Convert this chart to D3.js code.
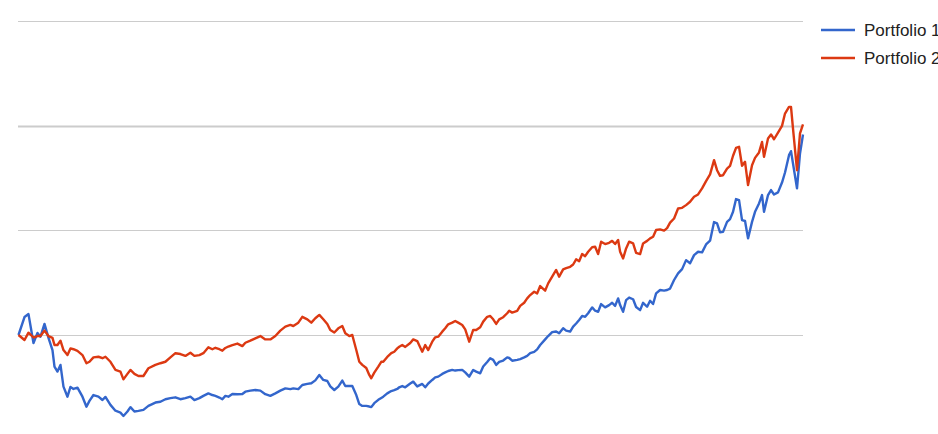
<!DOCTYPE html>
<html>
<head>
<meta charset="utf-8">
<script src="https://cdn.jsdelivr.net/npm/d3@7"></script>
<style>
  html, body { margin: 0; padding: 0; background: #fff; }
  svg { display: block; }
</style>
</head>
<body>
<svg id="chart" width="938" height="434"></svg>
<script>
// ---- data ----
const seriesNames = ["Portfolio 1", "Portfolio 2"];
const seriesColors = ["#3366cc", "#dc3912"];
const gridTicks = [100, 150, 200, 250];

const weeks = [0,6,10,15,19,22,26,30,34,36,39,42,45,49,52,55,59,64,68,71,75,80,84,87,92,97,102,105,109,112,116,120,125,130,
137,142,147,152,157,162,167,172,176,181,185,190,194,197,201,204,207,210,214,219,224,227,232,237,242,247,252,257,262,
267,272,275,280,284,289,293,297,301,305,309,312,316,320,324,327,331,334,338,341,344,348,351,353,356,360,363,365,369,373,376,379,381,384,387,392,
395,399,404,407,410,414,417,420,424,427,430,434,437,440,444,447,451,455,458,462,465,469,472,475,478,481,485,489,491,494,499,502,506,509,512,516,519,522,
527,530,534,538,541,545,548,552,555,558,561,564,567,570,574,577,580,583,587,591,594,597,600,602,605,608,611,615,618,622,625,629,632,635,638,642,646,649,652,
656,660,664,668,672,676,680,684,688,692,696,699,702,705,709,712,715,718,721,724,727,730,734,737,741,744,746,750,753,756,760,764,767,771,773,775,779,782,785];

const portfolio1 = [100.0,108.6,110.0,96.2,101.0,99.2,105.3,98.6,92.8,84.9,82.5,85.7,75.3,70.5,75.2,74.2,74.8,70.5,65.7,68.5,71.3,70.5,68.9,70.4,66.6,63.8,62.9,61.3,63.4,65.5,63.4,63.7,64.2,66.1,
67.7,68.1,69.3,69.8,70.2,69.3,69.8,70.5,68.9,69.8,70.9,72.1,71.3,70.9,70.1,69.3,70.9,70.5,71.8,71.7,71.8,72.9,73.4,73.7,73.4,71.7,70.9,72.1,73.4,
74.5,74.1,74.5,74.1,76.1,76.6,76.9,78.3,80.9,78.5,78.0,75.4,73.7,75.3,78.2,75.6,75.6,75.6,71.3,67.0,66.1,66.1,65.8,65.5,67.4,69.0,69.9,70.5,72.1,73.2,73.6,74.2,75.0,75.6,75.0,76.8,
77.7,75.4,76.6,75.0,76.8,78.5,79.7,80.1,81.4,82.1,82.8,83.3,83.0,83.2,83.3,82.1,80.1,83.3,82.5,81.7,84.9,87.1,88.9,88.1,85.7,87.1,87.8,89.3,89.0,87.7,88.1,88.5,89.3,90.0,91.3,91.9,93.1,95.2,
97.9,99.5,101.4,101.7,100.8,103.2,102.1,101.6,104.0,105.5,107.2,109.1,108.7,110.4,113.2,111.6,111.1,114.8,113.2,114.3,115.4,113.9,117.5,114.3,111.1,116.7,117.9,117.1,113.4,111.9,115.4,113.5,116.4,114.8,119.9,121.5,121.2,121.5,122.2,
126.3,129.5,131.5,135.8,134.3,138.2,139.8,139.5,143.3,145.1,154.0,153.4,149.1,149.3,154.1,155.4,158.9,165.0,164.5,154.9,154.5,146.2,154.1,158.9,162.9,166.9,158.9,166.9,169.3,167.2,168.2,172.9,177.7,186.0,187.9,182.0,170.1,186.8,195.9];

const portfolio2 = [100.0,97.6,101.1,98.8,99.5,99.5,102.1,99.5,98.6,95.2,95.2,97.3,92.8,90.4,93.6,93.2,92.4,90.4,86.5,87.2,89.3,89.6,88.9,89.6,87.2,83.3,82.5,78.8,81.4,83.3,81.4,80.4,80.4,84.1,
85.7,86.5,87.2,89.3,91.3,90.9,90.0,91.5,90.0,90.4,91.3,94.1,93.2,93.9,93.2,92.5,93.8,94.5,95.2,95.9,94.7,96.3,97.3,98.4,99.5,97.9,97.9,99.5,102.1,
104.0,104.8,104.3,105.9,108.7,107.5,105.9,108.0,109.6,107.5,105.3,102.4,101.2,103.2,104.3,100.8,99.5,100.0,92.8,87.2,85.7,84.2,80.9,79.3,82.0,84.9,87.2,87.2,89.5,91.3,92.0,93.6,94.4,95.2,94.3,96.2,
97.9,97.1,92.0,95.2,92.8,96.8,98.9,99.2,101.6,103.2,105.1,105.9,106.7,105.9,104.8,102.7,96.8,102.4,102.4,103.7,106.4,108.7,109.1,107.5,105.3,107.5,108.5,110.4,111.6,110.7,111.5,113.9,115.4,117.5,119.1,120.7,119.9,123.4,
121.2,124.7,127.9,131.1,127.9,131.4,132.0,132.6,133.7,136.2,135.3,138.7,137.7,139.8,142.0,142.2,138.7,144.6,143.5,144.1,145.0,143.5,145.4,139.8,136.6,141.4,144.6,143.8,139.3,138.7,143.8,145.0,146.2,147.0,150.2,150.5,149.9,151.1,153.7,
155.7,160.5,160.8,162.1,163.7,166.1,167.2,170.1,173.6,176.8,183.6,178.8,176.1,176.4,179.6,180.9,185.7,189.5,190.0,180.9,182.8,171.7,181.2,184.7,187.3,192.3,185.2,194.0,195.9,193.6,196.8,200.0,205.9,209.1,209.1,198.7,178.8,196.4,200.7];

const seriesValues = [portfolio1, portfolio2];

// ---- chart ----
const svg = d3.select("#chart");
const plot = { left: 18, right: 803, top: 21.3, zeroY: 335 };

const x = d3.scaleLinear().domain([0, d3.max(weeks)]).range([18.5, 803]);
const y = d3.scaleLinear().domain([100, 250]).range([plot.zeroY, plot.top]);

// gridlines
svg.append("g").attr("class", "grid")
  .selectAll("line").data(gridTicks).join("line")
  .attr("x1", plot.left).attr("x2", plot.right)
  .attr("y1", d => Math.round(y(d)) + 0.5).attr("y2", d => Math.round(y(d)) + 0.5)
  .attr("stroke", "#cccccc").attr("stroke-width", (d, i) => i === 2 ? 2 : 1);

const line = d3.line().x((d, i) => x(weeks[i])).y(d => y(d));

svg.append("g").selectAll("path").data(seriesValues).join("path")
  .attr("d", d => line(d))
  .attr("fill", "none")
  .attr("stroke", (d, i) => seriesColors[i])
  .attr("stroke-width", 2.4)
  .attr("stroke-linejoin", "round");

// legend
const legend = svg.append("g").attr("font-family", "Arial, 'Liberation Sans', sans-serif");
const legendY = [30, 58];
seriesNames.forEach((name, i) => {
  legend.append("line")
    .attr("x1", 821).attr("x2", 855)
    .attr("y1", legendY[i]).attr("y2", legendY[i])
    .attr("stroke", seriesColors[i]).attr("stroke-width", 2.6);
  legend.append("text")
    .attr("x", 864).attr("y", legendY[i] + 6)
    .attr("font-size", 17).attr("fill", "#222222")
    .text(name);
});
</script>
</body>
</html>
